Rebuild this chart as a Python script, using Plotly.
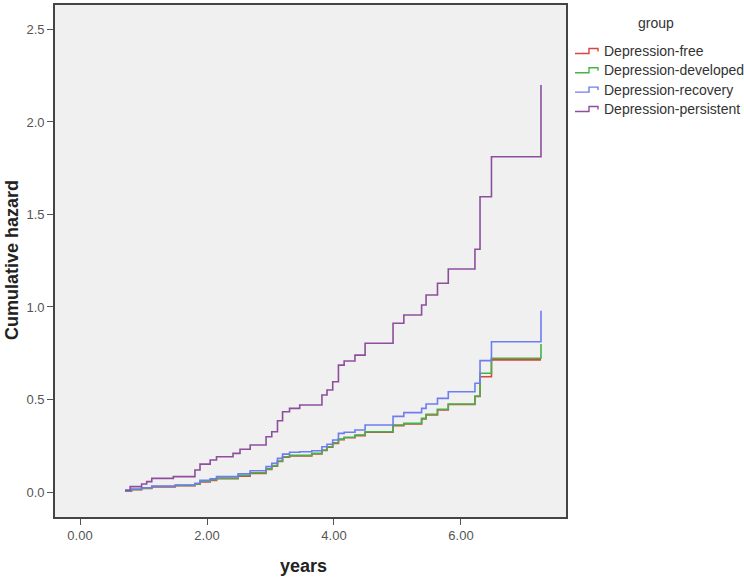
import plotly.graph_objects as go

# ---- data ----
groups = ["Depression-free", "Depression-developed", "Depression-recovery", "Depression-persistent"]

t_free = [0.71, 0.81, 0.97, 1.13, 1.50, 1.81, 1.89, 2.05, 2.15, 2.49, 2.68, 2.93, 3.02, 3.11, 3.19, 3.30,
          3.65, 3.81, 3.89, 3.98, 4.07, 4.16, 4.33, 4.49, 4.93, 5.10, 5.38, 5.45, 5.63, 5.80, 6.22, 6.30, 6.48, 7.26]
h_free = [0.005, 0.012, 0.019, 0.028, 0.034, 0.042, 0.055, 0.063, 0.072, 0.086, 0.101, 0.122, 0.139, 0.165,
          0.188, 0.195, 0.206, 0.224, 0.242, 0.263, 0.283, 0.293, 0.305, 0.323, 0.359, 0.368, 0.395, 0.417,
          0.444, 0.473, 0.516, 0.623, 0.714, 0.714]

t_developed = [0.71, 0.81, 0.97, 1.13, 1.50, 1.81, 1.89, 2.05, 2.15, 2.49, 2.68, 2.93, 3.02, 3.11, 3.19, 3.30,
               3.65, 3.81, 3.89, 3.98, 4.07, 4.16, 4.33, 4.49, 4.93, 5.10, 5.38, 5.45, 5.63, 5.80, 6.22, 6.30, 6.48, 7.26]
h_developed = [0.006, 0.014, 0.021, 0.030, 0.036, 0.044, 0.058, 0.066, 0.075, 0.089, 0.104, 0.125, 0.142, 0.168,
               0.191, 0.198, 0.209, 0.227, 0.245, 0.266, 0.286, 0.296, 0.308, 0.326, 0.362, 0.371, 0.398, 0.420,
               0.447, 0.476, 0.519, 0.642, 0.723, 0.800]

t_recovery = [0.71, 0.81, 0.97, 1.13, 1.50, 1.81, 1.89, 2.05, 2.15, 2.49, 2.68, 2.93, 3.02, 3.11, 3.19, 3.30,
              3.46, 3.65, 3.81, 3.89, 3.98, 4.07, 4.16, 4.33, 4.49, 4.93, 5.10, 5.38, 5.45, 5.63, 5.80, 6.22, 6.30, 6.48, 7.26]
h_recovery = [0.007, 0.016, 0.023, 0.032, 0.038, 0.047, 0.063, 0.072, 0.083, 0.098, 0.115, 0.137, 0.155, 0.182,
              0.205, 0.215, 0.218, 0.223, 0.245, 0.258, 0.281, 0.317, 0.323, 0.335, 0.362, 0.409, 0.429, 0.452,
              0.476, 0.506, 0.542, 0.588, 0.710, 0.812, 0.980]

t_persistent = [0.71, 0.79, 0.97, 1.05, 1.13, 1.47, 1.81, 1.89, 2.05, 2.15, 2.41, 2.52, 2.68, 2.93, 3.02, 3.11,
                3.19, 3.30, 3.46, 3.81, 3.89, 3.98, 4.07, 4.16, 4.33, 4.49, 4.93, 5.10, 5.38, 5.45, 5.63, 5.80,
                6.22, 6.30, 6.48, 7.26]
h_persistent = [0.010, 0.029, 0.043, 0.056, 0.074, 0.083, 0.119, 0.151, 0.173, 0.191, 0.209, 0.231, 0.254, 0.299,
                0.326, 0.385, 0.434, 0.452, 0.470, 0.524, 0.551, 0.596, 0.686, 0.708, 0.740, 0.804, 0.912, 0.957,
                1.011, 1.065, 1.128, 1.205, 1.312, 1.596, 1.812, 2.200]

x_ticks = [0, 2, 4, 6]
x_tick_labels = ["0.00", "2.00", "4.00", "6.00"]
y_ticks = [0.0, 0.5, 1.0, 1.5, 2.0, 2.5]
y_tick_labels = ["0.0", "0.5", "1.0", "1.5", "2.0", "2.5"]

legend_title = "group"
x_title = "years"
y_title = "Cumulative hazard"

colors = ["#d8453f", "#45b34a", "#6e7cf0", "#8d4f9b"]

series = [(t_free, h_free), (t_developed, h_developed), (t_recovery, h_recovery), (t_persistent, h_persistent)]

FONT = "Liberation Sans, Arial, sans-serif"

# figure geometry (pixels)
W, H = 744, 586
ML, MR, MT, MB = 55, 178, 5, 69
PW, PH = W - ML - MR, H - MT - MB


def px_x(px):
    return (px - ML) / PW


def px_y(py):
    return (H - MB - py) / PH


fig = go.Figure()
for name, (t, h), c in zip(groups, series, colors):
    fig.add_trace(go.Scatter(
        x=t, y=h, mode="lines", name=name, showlegend=False,
        line=dict(color=c, width=1.6, shape="hv"),
    ))

# hand-drawn legend with step-shaped icons (SPSS style)
shapes = []
annotations = []
row_y = [51, 70.3, 89.6, 109]
for name, c, yc in zip(groups, colors, row_y):
    pts = [(575, yc + 2.5), (589, yc + 2.5), (589, yc - 2.5), (598, yc - 2.5), (598, yc + 0.5)]
    path = "M " + " L ".join(f"{px_x(a):.5f},{px_y(b):.5f}" for a, b in pts)
    shapes.append(dict(type="path", xref="paper", yref="paper", path=path,
                       line=dict(color=c, width=1.4)))
    annotations.append(dict(x=px_x(602), y=px_y(yc), xref="paper", yref="paper",
                            xanchor="left", yanchor="middle", showarrow=False,
                            text=name, font=dict(family=FONT, size=14, color="#333")))
annotations.append(dict(x=px_x(656), y=px_y(23), xref="paper", yref="paper",
                        xanchor="center", yanchor="middle", showarrow=False,
                        text=legend_title, font=dict(family=FONT, size=14, color="#333")))
annotations.append(dict(x=px_x(303), y=px_y(566), xref="paper", yref="paper",
                        xanchor="center", yanchor="middle", showarrow=False,
                        text=f"<b>{x_title}</b>", font=dict(family=FONT, size=18, color="#222")))
annotations.append(dict(x=px_x(12), y=px_y(260), xref="paper", yref="paper",
                        xanchor="center", yanchor="middle", showarrow=False, textangle=-90,
                        text=f"<b>{y_title}</b>", font=dict(family=FONT, size=18, color="#222")))

fig.update_layout(
    width=W, height=H,
    margin=dict(l=ML, r=MR, t=MT, b=MB, autoexpand=False),
    paper_bgcolor="white",
    plot_bgcolor="#f0f0f0",
    font=dict(family=FONT, size=13, color="#333"),
    showlegend=False,
    shapes=shapes,
    annotations=annotations,
)

fig.update_xaxes(
    range=[-0.394, 7.654], automargin=False,
    tickmode="array", tickvals=x_ticks, ticktext=x_tick_labels,
    ticks="outside", ticklen=6, tickwidth=1.2, tickcolor="#555",
    tickfont=dict(size=13, color="#555"),
    showgrid=False, zeroline=False,
    showline=True, linecolor="#444", linewidth=1.6, mirror=True,
)
fig.update_yaxes(
    range=[-0.135, 2.632], automargin=False,
    tickmode="array", tickvals=y_ticks, ticktext=y_tick_labels,
    ticks="outside", ticklen=6, tickwidth=1.2, tickcolor="#555",
    tickfont=dict(size=13, color="#555"),
    showgrid=False, zeroline=False,
    showline=True, linecolor="#444", linewidth=1.6, mirror=True,
)

# remove the browser's default 8px body margin so the figure fills the window
fig.write_html("out.html", config={"displayModeBar": False},
               post_script="document.body.style.margin='0';document.body.style.overflow='hidden';")
